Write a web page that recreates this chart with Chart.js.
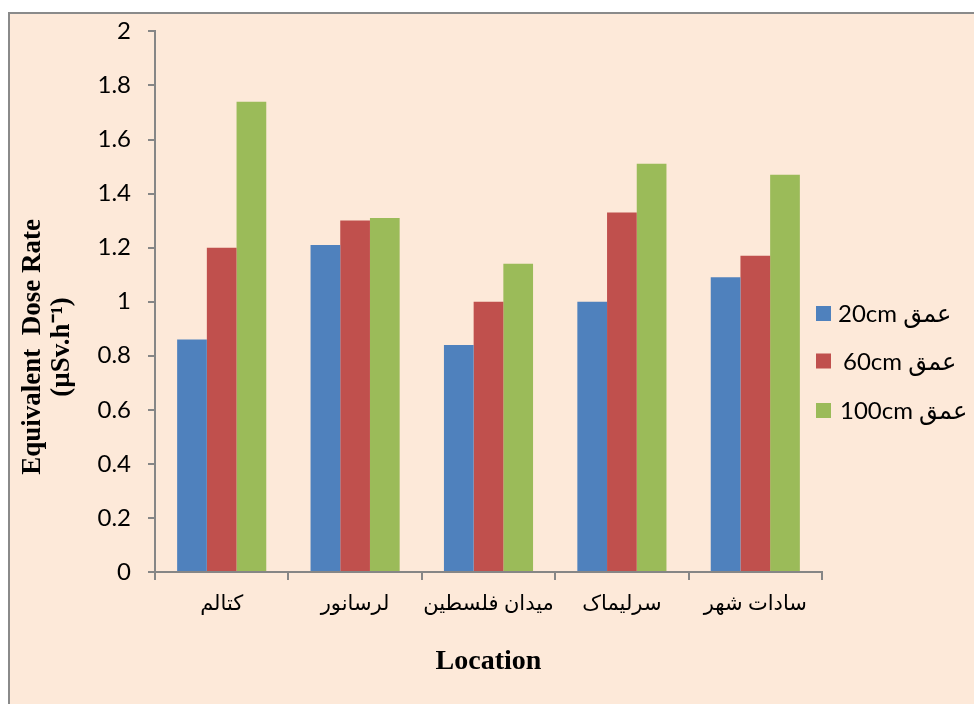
<!DOCTYPE html>
<html>
<head>
<meta charset="utf-8">
<script src="https://cdn.jsdelivr.net/npm/chart.js@4/dist/chart.umd.min.js"></script>
<style>
  html, body { margin: 0; padding: 0; background: #ffffff; }
  canvas { display: block; }
</style>
</head>
<body>
<canvas id="chart" width="974" height="704"></canvas>
<script>
// Sampling locations along the x axis
const locations = ['کتالم', 'لرسانور', 'میدان فلسطین', 'سرلیماک', 'سادات شهر'];

// Equivalent dose rate (µSv/h) measured at each depth
const depth20cm  = [0.86, 1.21, 0.84, 1.00, 1.09];
const depth60cm  = [1.20, 1.30, 1.00, 1.33, 1.17];
const depth100cm = [1.74, 1.31, 1.14, 1.51, 1.47];

const seriesLabels = ['20cm عمق', '60cm عمق', '100cm عمق'];
const yTickLabels = ['0', '0.2', '0.4', '0.6', '0.8', '1', '1.2', '1.4', '1.6', '1.8', '2'];
const yTitleLines = ['Equivalent  Dose Rate', '(µSv.h\u207B\u00B9)'];
const xTitle = 'Location';

const AXIS_GREY = '#868686';
const SANS = 'Lato, "DejaVu Sans", sans-serif';
const SERIF = '"Liberation Serif", "Times New Roman", serif';

// Peach panel with a grey frame behind everything
const panelPlugin = {
  id: 'panel',
  beforeDraw(chart) {
    const ctx = chart.ctx;
    ctx.save();
    ctx.fillStyle = '#ffffff';
    ctx.fillRect(0, 0, chart.width, chart.height);
    ctx.fillStyle = '#FDE9D9';
    ctx.fillRect(8, 12, chart.width, chart.height);
    ctx.strokeStyle = '#8a8a8a';
    ctx.lineWidth = 2;
    ctx.strokeRect(9, 13, chart.width + 20, chart.height + 20);
    ctx.restore();
  }
};

// Two-line rotated y-axis title
const yTitlePlugin = {
  id: 'yTitle',
  afterDraw(chart) {
    const ctx = chart.ctx;
    ctx.save();
    ctx.font = 'bold 27px ' + SERIF;
    ctx.fillStyle = '#000000';
    ctx.textAlign = 'center';
    ctx.textBaseline = 'middle';
    const cy = 347;
    const xs = [33, 62];
    yTitleLines.forEach((line, i) => {
      ctx.save();
      ctx.translate(xs[i], cy);
      ctx.rotate(-Math.PI / 2);
      ctx.fillText(line, 0, 0);
      ctx.restore();
    });
    ctx.restore();
  }
};

// Legend on the right, built from the datasets
const sideLegendPlugin = {
  id: 'sideLegend',
  afterDraw(chart) {
    const ctx = chart.ctx;
    const ys = [313.5, 361, 410.5];
    const xs = [838, 843, 840];
    ctx.save();
    ctx.font = '24px ' + SANS;
    ctx.textAlign = 'left';
    ctx.textBaseline = 'middle';
    chart.data.datasets.forEach((ds, i) => {
      ctx.fillStyle = ds.backgroundColor;
      ctx.fillRect(816, ys[i] - 7.5, 15, 15);
      ctx.fillStyle = '#000000';
      ctx.fillText(ds.label, xs[i], ys[i] + 1);
    });
    ctx.restore();
  }
};

new Chart(document.getElementById('chart'), {
  type: 'bar',
  data: {
    labels: locations,
    datasets: [
      { label: seriesLabels[0], data: depth20cm,  backgroundColor: '#4F81BD' },
      { label: seriesLabels[1], data: depth60cm,  backgroundColor: '#C0504D' },
      { label: seriesLabels[2], data: depth100cm, backgroundColor: '#9BBB59' }
    ]
  },
  options: {
    responsive: false,
    animation: false,
    devicePixelRatio: 1,
    layout: { padding: { top: 30, right: 152, bottom: 0, left: 0 } },
    datasets: { bar: { categoryPercentage: 0.668, barPercentage: 1.0 } },
    plugins: {
      legend: { display: false },
      tooltip: { enabled: false }
    },
    scales: {
      x: {
        afterFit(scale) { scale.height = 132; },
        grid: {
          offset: true,
          drawOnChartArea: false,
          drawTicks: true,
          tickLength: 8,
          color: AXIS_GREY,
          lineWidth: 2
        },
        border: { color: AXIS_GREY, width: 2 },
        ticks: {
          autoSkip: false,
          color: '#000000',
          padding: 11,
          font: { family: SANS, size: 21 },
          maxRotation: 0
        },
        title: {
          display: true,
          text: xTitle,
          color: '#000000',
          font: { family: SERIF, size: 28, weight: 'bold' },
          padding: { top: 0, bottom: 25 }
        }
      },
      y: {
        min: 0,
        max: 2,
        afterFit(scale) { scale.width = 155; },
        grid: {
          drawOnChartArea: false,
          drawTicks: true,
          tickLength: 7,
          color: AXIS_GREY,
          lineWidth: 2
        },
        border: { color: AXIS_GREY, width: 2 },
        ticks: {
          stepSize: 0.2,
          autoSkip: false,
          color: '#000000',
          padding: 17,
          font: { family: SANS, size: 24 },
          callback: (value, index) => yTickLabels[index]
        }
      }
    }
  },
  plugins: [panelPlugin, yTitlePlugin, sideLegendPlugin]
});
</script>
</body>
</html>
